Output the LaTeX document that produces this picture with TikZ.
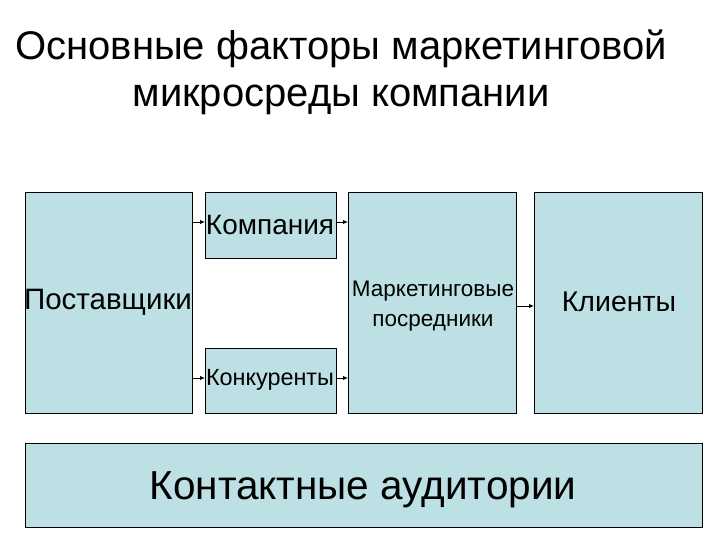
\documentclass[tikz,border=0pt]{standalone}
\usepackage{fontspec}
\setmainfont{Liberation Sans}
\usetikzlibrary{arrows.meta}
\definecolor{boxfill}{RGB}{189,224,228}
\begin{document}
\begin{tikzpicture}[x=1pt,y=-1pt,
  blk/.style={draw=black,line width=0.8pt,fill=boxfill},
  lbl/.style={inner sep=0pt,align=center,text=black},
  arr/.style={line width=0.9pt,-{Latex[length=5pt,width=4.5pt]}}]
\useasboundingbox[fill=white] (0,0) rectangle (720,540);
% title
\node[lbl,font=\fontsize{40}{47}\selectfont] (title) at (341,72) {Основные факторы маркетинговой\\микросреды компании};
% boxes
\path[blk] (25,192) rectangle (192,413);
\path[blk] (205,192) rectangle (336,258);
\path[blk] (205,348) rectangle (336,413);
\path[blk] (348,192) rectangle (516,413);
\path[blk] (534,192) rectangle (702,413);
\path[blk] (25,443) rectangle (702,527);
\node[lbl,font=\fontsize{29.5}{34}\selectfont] (supp) at (108,302) {Поставщики};
\node[lbl,font=\fontsize{28}{32}\selectfont] (comp) at (270,225) {Компания};
\node[lbl,font=\fontsize{23.4}{27}\selectfont] (conc) at (270,380) {Конкуренты};
\node[lbl,font=\fontsize{22.5}{30}\selectfont] (mark) at (433,306) {Маркетинговые\\посредники};
\node[lbl,font=\fontsize{28.5}{32}\selectfont] (cli) at (619,302) {Клиенты};
\node[lbl,font=\fontsize{40.5}{46}\selectfont] (aud) at (363,490) {Контактные аудитории};
% arrows
\coordinate (a1s) at (192,222); \coordinate (a1e) at (205,222);
\coordinate (a2s) at (336,222); \coordinate (a2e) at (348,222);
\coordinate (a3s) at (192,378); \coordinate (a3e) at (205,378);
\coordinate (a4s) at (336,378); \coordinate (a4e) at (348,378);
\coordinate (a5s) at (516,306); \coordinate (a5e) at (534,306);
\draw[arr] (a1s) -- (a1e);
\draw[arr] (a2s) -- (a2e);
\draw[arr] (a3s) -- (a3e);
\draw[arr] (a4s) -- (a4e);
\draw[arr] (a5s) -- (a5e);
\end{tikzpicture}
\end{document}
